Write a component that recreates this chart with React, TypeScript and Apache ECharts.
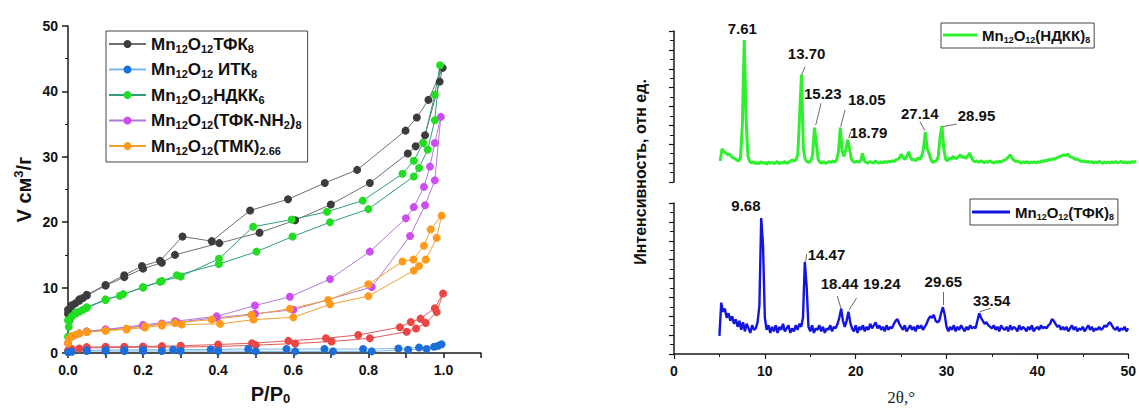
import { useEffect, useRef } from 'react';
import * as echarts from 'echarts';

const FONT = '"Liberation Sans", Arial, sans-serif';
const SERIF = '"Liberation Serif", "Times New Roman", serif';

// ---------- Left: N2 isotherms, [P/P0, V cm3/g] (adsorption then desorption) ----------
const isoTfk8 = [
  [0, 6.0], [0.005, 6.8], [0.01, 7.2], [0.02, 7.6], [0.03, 8.0], [0.04, 8.4], [0.05, 8.8],
  [0.1, 10.3], [0.15, 11.6], [0.2, 12.9], [0.25, 13.8], [0.285, 15.0], [0.403, 16.8],
  [0.51, 18.4], [0.605, 20.3], [0.7, 22.7], [0.804, 26.0], [0.905, 30.5], [0.926, 31.6],
  [0.951, 33.3], [0.99, 41.5], [0.998, 43.6],
  [0.96, 38.7], [0.929, 36.0], [0.899, 34.0], [0.77, 28.0], [0.684, 26.0], [0.586, 23.5],
  [0.485, 21.8], [0.383, 17.1], [0.305, 17.8], [0.245, 14.1], [0.197, 13.3], [0.15, 11.9],
  [0.1, 10.4], [0.05, 8.9], [0.03, 8.2], [0.01, 7.3], [0, 6.6],
];
const isoItk8 = [
  [0, 0.1], [0.01, 0.2], [0.05, 0.3], [0.1, 0.3], [0.15, 0.3], [0.2, 0.3], [0.25, 0.3],
  [0.3, 0.3], [0.4, 0.3], [0.5, 0.25], [0.605, 0.25], [0.706, 0.25], [0.809, 0.25],
  [0.906, 0.5], [0.955, 0.6], [0.986, 1.1], [0.995, 1.35],
  [0.975, 0.95], [0.935, 0.85], [0.88, 0.7], [0.786, 0.6], [0.683, 0.6], [0.582, 0.6],
  [0.48, 0.6], [0.38, 0.55], [0.28, 0.5], [0.2, 0.5], [0.15, 0.45], [0.1, 0.45], [0.05, 0.4],
];
const isoNdkk6 = [
  [0, 2.5], [0.002, 4.0], [0.005, 5.0], [0.01, 5.6], [0.02, 6.0], [0.03, 6.3], [0.04, 6.6],
  [0.05, 6.9], [0.1, 8.1], [0.147, 9.0], [0.2, 10.0], [0.245, 10.9], [0.29, 11.9],
  [0.402, 13.6], [0.502, 15.5], [0.598, 17.8], [0.698, 20.0], [0.8, 22.0], [0.921, 27.0],
  [0.935, 28.3], [0.958, 31.1], [0.977, 35.6], [0.991, 44.0],
  [0.977, 39.5], [0.946, 32.1], [0.921, 29.4], [0.891, 27.4], [0.785, 23.3], [0.69, 21.6],
  [0.596, 20.4], [0.493, 19.3], [0.402, 14.4], [0.3, 11.7], [0.25, 11.0], [0.2, 10.1],
  [0.138, 8.75], [0.1, 8.2], [0.05, 7.0], [0.02, 6.2], [0, 5.0],
];
const isoTfkNh2 = [
  [0, 1.5], [0.01, 2.5], [0.03, 3.0], [0.05, 3.3], [0.1, 3.6], [0.2, 4.1], [0.25, 4.5],
  [0.29, 4.7], [0.396, 5.4], [0.498, 6.0], [0.6, 6.6], [0.809, 10.1], [0.911, 17.9],
  [0.951, 22.6], [0.977, 26.4], [0.993, 36.1],
  [0.977, 32.1], [0.964, 28.5], [0.948, 25.4], [0.921, 22.3], [0.9, 20.6], [0.804, 15.5],
  [0.698, 11.3], [0.591, 8.6], [0.498, 7.25], [0.396, 5.6], [0.285, 4.85], [0.2, 4.3],
  [0.1, 3.6], [0.05, 3.3],
];
const isoTmk = [
  [0, 1.5], [0.003, 2.2], [0.01, 2.6], [0.02, 2.8], [0.03, 3.0], [0.05, 3.2], [0.1, 3.4],
  [0.156, 3.6], [0.205, 3.9], [0.25, 4.2], [0.303, 4.35], [0.405, 4.45], [0.494, 5.1],
  [0.6, 5.45], [0.698, 7.45], [0.8, 8.7], [0.921, 12.6], [0.935, 13.3], [0.953, 14.3],
  [0.982, 17.6], [0.995, 21.0],
  [0.966, 18.9], [0.948, 16.4], [0.92, 14.3], [0.891, 14.0], [0.8, 10.5], [0.693, 8.1],
  [0.591, 6.75], [0.489, 5.85], [0.383, 5.1], [0.285, 4.6], [0.25, 4.4], [0.205, 4.1],
  [0.156, 3.75], [0.1, 3.45], [0.05, 3.2],
];
const isoRed = [
  [0, 0.4], [0.01, 0.6], [0.03, 0.7], [0.05, 0.8], [0.1, 0.8], [0.15, 0.85], [0.2, 0.9],
  [0.25, 0.9], [0.3, 0.9], [0.4, 1.0], [0.5, 1.2], [0.605, 1.45], [0.702, 1.75],
  [0.804, 2.25], [0.902, 3.25], [0.927, 3.75], [0.953, 4.6], [0.982, 6.25], [0.999, 9.1],
  [0.977, 6.85], [0.939, 5.25], [0.913, 4.75], [0.884, 3.95], [0.773, 2.75], [0.687, 2.25],
  [0.587, 1.85], [0.49, 1.5], [0.4, 1.3], [0.3, 1.1], [0.25, 1.05], [0.2, 1.0], [0.15, 0.95],
  [0.1, 0.95], [0.05, 0.9],
];
const isoNames = [
  'Mn_{12}O_{12}ТФК_{8}',
  'Mn_{12}O_{12} ИТК_{8}',
  'Mn_{12}O_{12}НДКК_{6}',
  'Mn_{12}O_{12}(ТФК-NH_{2})_{8}',
  'Mn_{12}O_{12}(ТМК)_{2.66}',
];

// ---------- Right: XRD patterns, sampled from 5 to 50 deg every 0.2 deg (arb. units) ----------
const xrdStart = 5;
const xrdStep = 0.2;
const xrdNdkk8 = [
  14, 22, 20, 19.5, 18, 18.5, 17, 16, 15.5, 14.5,
  14, 16, 38, 94, 42, 17, 13.5, 12.5, 13.5, 12,
  13, 12, 13.5, 12.5, 13, 11.8, 13.2, 12.4, 13, 12.2,
  12.8, 13.5, 12, 13, 12.5, 13.6, 12.2, 13, 13.8, 14.5,
  14, 14.5, 18, 45, 71, 22, 15, 13.5, 13, 14,
  18, 36, 26, 15, 13, 12.5, 13.5, 12.2, 13, 13.5,
  13, 14, 13, 14.5, 20, 36, 20, 17, 22, 28,
  22, 15, 13.5, 13, 14, 13, 14, 19, 14, 13,
  12.5, 13.5, 13, 12.5, 14, 13, 12.6, 13.4, 12.8, 13.5,
  13, 13.8, 13.2, 14, 13.5, 14.6, 15, 16, 18.5, 16,
  15, 17, 20, 16, 14.5, 15, 14, 16, 15, 17,
  22, 33, 22, 19, 15, 13, 13.5, 14, 17, 30,
  37, 22, 15, 14, 16, 15, 17, 16, 15.5, 17,
  18, 16, 17, 15.5, 17.5, 19, 16, 14, 13.5, 14,
  13, 14, 13.5, 12.8, 13.6, 13, 14, 13.2, 12.6, 13.4,
  13, 13.8, 13.2, 14, 14.5, 15.5, 16.5, 18, 15.5, 14.5,
  13.5, 14, 13, 12.6, 13.4, 12.8, 13.5, 12.5, 13.2, 12.8,
  13.4, 12.7, 13.3, 13, 14, 13.6, 14.5, 14, 15, 14.6,
  15.5, 15, 16, 16.5, 17, 17.5, 18, 17.5, 18.5, 17,
  16.5, 16, 15, 15.5, 14.5, 14, 13.5, 14, 13.2, 13.6,
  13, 13.5, 12.6, 13.2, 12.8, 13.6, 13, 12.5, 13.2, 12.7,
  13.2, 12.6, 13.4, 12.9, 13.5, 12.8, 13, 13.6, 12.8, 13.3,
  12.6, 13.3, 12.8, 13.5, 13, 14,
];
const xrdTfk8 = [
  12, 34, 28, 30, 24, 27, 22, 25, 20, 23,
  18, 22, 16, 21, 15, 20, 17, 14, 19, 16,
  17, 21, 32, 90, 72, 24, 16, 19, 14, 18,
  15, 19, 14, 18, 16, 20, 15, 17, 19, 14,
  17, 15, 19, 16, 20, 18, 24, 61, 45, 18,
  15, 19, 14, 17, 16, 19, 15, 18, 14, 17,
  16, 19, 15, 18, 17, 20, 24, 30, 22, 18,
  22, 28, 21, 17, 15, 19, 14, 18, 16, 19,
  15, 18, 16, 20, 17, 19, 21, 17, 19, 16,
  18, 15, 19, 16, 18, 17, 20, 22, 23, 20,
  18, 16, 19, 15, 17, 19, 16, 18, 15, 19,
  17, 19, 16, 18, 20, 23, 25, 24, 26, 22,
  21, 22, 27, 31, 26, 18, 15, 18, 16, 19,
  15, 18, 16, 19, 17, 15, 18, 16, 19, 17,
  18, 17, 22, 27, 24, 22, 20, 21, 19, 18,
  17, 19, 16, 18, 15, 19, 17, 16, 18, 15,
  19, 16, 18, 17, 15, 19, 16, 18, 17, 15,
  18, 16, 19, 15, 17, 18, 16, 19, 17, 18,
  17, 19, 20, 23, 22, 20, 18, 19, 16, 18,
  16, 18, 15, 17, 19, 16, 18, 15, 17, 16,
  18, 15, 17, 19, 16, 18, 15, 17, 16, 18,
  16, 17, 19, 18, 20, 21, 19, 17, 16, 18,
  15, 17, 16, 18, 15, 17,
];
const xrdNames = ['Mn_{12}O_{12}(НДКК)_{8}', 'Mn_{12}O_{12}(ТФК)_{8}'];

// peak positions (2θ) and peak heights
const peaksNdkk = [7.61, 13.7, 15.23, 18.05, 18.79, 27.14, 28.95];
const peakHNdkk = [94, 71, 36, 36, 28, 33, 37];
const peaksTfk = [9.68, 14.47, 18.44, 19.24, 29.65, 33.54];
const peakHTfk = [90, 61, 30, 28, 31, 27];

// ---------- layout for the peak annotations (pixel offsets / leader segments) ----------
const offNdkk = [[-2, -12], [6, -21], [8, -34], [26, -28], [21, -7], [-5, -19], [35, -11]];
const offTfk = [[-16, -13], [21, -7], [-2, -25], [33, -28], [0, -26], [13, -13]];
const leadNdkk = [
  [13.82, 70.9, 14.18, 76.4], [15.34, 37.7, 15.91, 52.1], [18.04, 36.6, 18.51, 47.7],
  [18.91, 29.1, 19.12, 33.3], [27.16, 34, 26.62, 39.9], [29.08, 36.6, 30.6, 38.4],
];
const leadTfk = [
  [14.5, 61.5, 14.6, 66.2], [18.4, 29.8, 17.97, 38.4], [19.26, 29.1, 20.1, 37.1],
  [29.65, 32.5, 29.65, 41], [33.66, 28, 34.9, 30.3],
];

const toRich = (s: string) =>
  s.replace(/_\{([^}]*)\}/g, '{s|$1}').replace(/\^\{([^}]*)\}/g, '{p|$1}');

function buildOption() {
  const axisCol = '#1a1a1a';
  const labelStyle = { fontFamily: FONT, fontSize: 14, fontWeight: 'bold', color: '#111' };

  const isoStyles = [
    { name: 'red', data: isoRed, mk: '#ea4646', ln: '#e25a5a' },
    { name: isoNames[0], data: isoTfk8, mk: '#3c3c3c', ln: '#707070' },
    { name: isoNames[2], data: isoNdkk6, mk: '#22dd22', ln: '#2f9e7e' },
    { name: isoNames[3], data: isoTfkNh2, mk: '#cc4ef0', ln: '#b27ad6' },
    { name: isoNames[4], data: isoTmk, mk: '#ff9a1c', ln: '#f0a030' },
    { name: isoNames[1], data: isoItk8, mk: '#1c6fd8', ln: '#7ab8ea' },
  ];

  const isoSeries = isoStyles.map((s) => ({
    type: 'line',
    name: s.name,
    xAxisIndex: 0,
    yAxisIndex: 0,
    data: s.data,
    symbol: 'circle',
    symbolSize: 8,
    showSymbol: true,
    clip: false,
    itemStyle: { color: s.mk },
    lineStyle: { color: s.ln, width: 1 },
    emphasis: { disabled: true },
  }));

  const xrdData = (arr: number[]) => arr.map((v, i) => [xrdStart + i * xrdStep, v]);

  const peakLabelStyle = { fontFamily: FONT, fontSize: 15, fontWeight: 'bold', color: '#111' };

  const markPts = (pos: number[], h: number[], off: number[][]) => ({
    silent: true,
    symbol: 'circle',
    symbolSize: 0,
    itemStyle: { color: 'rgba(0,0,0,0)' },
    label: { show: true, position: 'inside', ...peakLabelStyle },
    data: pos.map((p, i) => ({
      coord: [p, h[i]],
      label: { formatter: p.toFixed(2), offset: off[i] },
    })),
  });
  const markLns = (segs: number[][]) => ({
    silent: true,
    symbol: ['none', 'none'],
    label: { show: false },
    lineStyle: { color: '#444', width: 0.8, type: 'solid' },
    data: segs.map((s) => [{ coord: [s[0], s[1]] }, { coord: [s[2], s[3]] }]),
  });

  const legendText = (size: number, sub: number, lh: number) => ({
    fontFamily: FONT,
    fontSize: size,
    fontWeight: 'bold',
    color: '#111',
    lineHeight: lh,
    rich: {
      s: { fontFamily: FONT, fontSize: sub, fontWeight: 'bold', color: '#111', lineHeight: sub, verticalAlign: 'bottom' },
    },
  });

  return {
    animation: false,
    backgroundColor: '#fff',
    grid: [
      { left: 68, top: 26, width: 413, height: 333 },
      { left: 674, top: 31, width: 462, height: 151 },
      { left: 674, top: 203, width: 462, height: 151 },
    ],
    xAxis: [
      {
        gridIndex: 0, type: 'value', min: 0, max: 1.1, interval: 0.1,
        axisLine: { lineStyle: { color: axisCol, width: 1.5 } },
        axisTick: { length: 5, lineStyle: { color: axisCol, width: 1.5 } },
        axisLabel: {
          ...labelStyle, margin: 10,
          formatter: (v: number) => {
            const k = Math.round(v * 10);
            return k % 2 === 0 && k <= 10 ? (k / 10).toFixed(1) : '';
          },
        },
        splitLine: { show: false },
        name: toRich('P/P_{0}'), nameLocation: 'middle', nameGap: 30,
        nameTextStyle: {
          fontFamily: FONT, fontSize: 20, fontWeight: 'bold', color: '#111', lineHeight: 22,
          padding: [0, 8, 0, 0],
          rich: { s: { fontFamily: FONT, fontSize: 13, fontWeight: 'bold', color: '#111', lineHeight: 13, verticalAlign: 'bottom' } },
        },
      },
      { gridIndex: 1, type: 'value', min: 0, max: 50, show: false },
      {
        gridIndex: 2, type: 'value', min: 0, max: 50, interval: 10,
        axisLine: { lineStyle: { color: axisCol, width: 1.5 } },
        axisTick: { length: 5, lineStyle: { color: axisCol, width: 1.2 } },
        minorTick: { show: true, splitNumber: 2, length: 3, lineStyle: { color: axisCol, width: 1 } },
        axisLabel: { ...labelStyle, margin: 10 },
        splitLine: { show: false },
        name: '2θ,°', nameLocation: 'middle', nameGap: 35,
        nameTextStyle: { fontFamily: SERIF, fontSize: 17, color: '#222' },
      },
    ],
    yAxis: [
      {
        gridIndex: 0, type: 'value', min: 0, max: 50, interval: 10,
        axisLine: { show: true, lineStyle: { color: axisCol, width: 1.5 } },
        axisTick: { show: true, length: 6, lineStyle: { color: axisCol, width: 1.5 } },
        minorTick: { show: true, splitNumber: 2, length: 3, lineStyle: { color: axisCol, width: 1 } },
        axisLabel: { ...labelStyle, margin: 10 },
        splitLine: { show: false },
        name: toRich('V см^{3}/г'), nameLocation: 'middle', nameGap: 32,
        nameTextStyle: {
          fontFamily: FONT, fontSize: 20, fontWeight: 'bold', color: '#111', lineHeight: 24,
          rich: { p: { fontFamily: FONT, fontSize: 13, fontWeight: 'bold', color: '#111', lineHeight: 13, verticalAlign: 'top' } },
        },
      },
      {
        gridIndex: 1, type: 'value', min: 0, max: 100, interval: 12.5, offset: 4,
        axisLine: { show: true, lineStyle: { color: axisCol, width: 1.5 } },
        axisTick: { show: true, length: 5, lineStyle: { color: axisCol, width: 1.2 } },
        minorTick: { show: true, splitNumber: 2, length: 4, lineStyle: { color: axisCol, width: 1 } },
        axisLabel: { show: false },
        splitLine: { show: false },
      },
      {
        gridIndex: 2, type: 'value', min: 0, max: 100, interval: 12.5,
        axisLine: { show: true, lineStyle: { color: axisCol, width: 1.5 } },
        axisTick: { show: true, length: 5, lineStyle: { color: axisCol, width: 1.2 } },
        minorTick: { show: true, splitNumber: 2, length: 4, lineStyle: { color: axisCol, width: 1 } },
        axisLabel: { show: false },
        splitLine: { show: false },
      },
    ],
    legend: [
      {
        left: 106, top: 31, orient: 'vertical', selectedMode: false,
        itemWidth: 37, itemHeight: 10, itemGap: 5.5, padding: [3, 6, 6, 2],
        borderColor: '#444', borderWidth: 1, backgroundColor: '#fff',
        data: isoNames, formatter: (n: string) => toRich(n),
        textStyle: legendText(17, 11, 20),
      },
      {
        left: 941, top: 23, selectedMode: false, icon: 'rect',
        itemWidth: 34, itemHeight: 3, padding: [3, 4, 4, 2],
        borderColor: '#444', borderWidth: 1, backgroundColor: '#fff',
        data: [xrdNames[0]], formatter: (n: string) => toRich(n),
        textStyle: legendText(15, 9, 18),
      },
      {
        left: 970, top: 199, selectedMode: false, icon: 'rect',
        itemWidth: 38, itemHeight: 3, padding: [4, 4, 4, 2],
        borderColor: '#444', borderWidth: 1, backgroundColor: '#fff',
        data: [xrdNames[1]], formatter: (n: string) => toRich(n),
        textStyle: legendText(15, 9, 18),
      },
    ],
    graphic: [
      {
        type: 'text', x: 640, y: 172, rotation: Math.PI / 2,
        style: {
          text: 'Интенсивность, отн ед.', fontFamily: FONT, fontSize: 16, fontWeight: 'bold',
          fill: '#111', textAlign: 'center', textVerticalAlign: 'middle',
        },
      },
    ],
    series: [
      ...isoSeries,
      {
        type: 'line', name: xrdNames[0], xAxisIndex: 1, yAxisIndex: 1,
        data: xrdData(xrdNdkk8), symbol: 'none', showSymbol: false,
        lineStyle: { color: '#2ef02e', width: 3 }, itemStyle: { color: '#2ef02e' },
        emphasis: { disabled: true },
        markPoint: markPts(peaksNdkk, peakHNdkk, offNdkk),
        markLine: markLns(leadNdkk),
      },
      {
        type: 'line', name: xrdNames[1], xAxisIndex: 2, yAxisIndex: 2,
        data: xrdData(xrdTfk8), symbol: 'none', showSymbol: false,
        lineStyle: { color: '#1414e0', width: 2.4 }, itemStyle: { color: '#1414e0' },
        emphasis: { disabled: true },
        markPoint: markPts(peaksTfk, peakHTfk, offTfk),
        markLine: markLns(leadTfk),
      },
    ],
  };
}

export default function App() {
  const ref = useRef<HTMLDivElement>(null);
  useEffect(() => {
    document.body.style.margin = '0';
    const chart = echarts.init(ref.current as HTMLDivElement, null, { renderer: 'svg' });
    chart.setOption(buildOption() as any);
    return () => chart.dispose();
  }, []);
  return <div ref={ref} style={{ width: 1139, height: 410, background: '#fff' }} />;
}
